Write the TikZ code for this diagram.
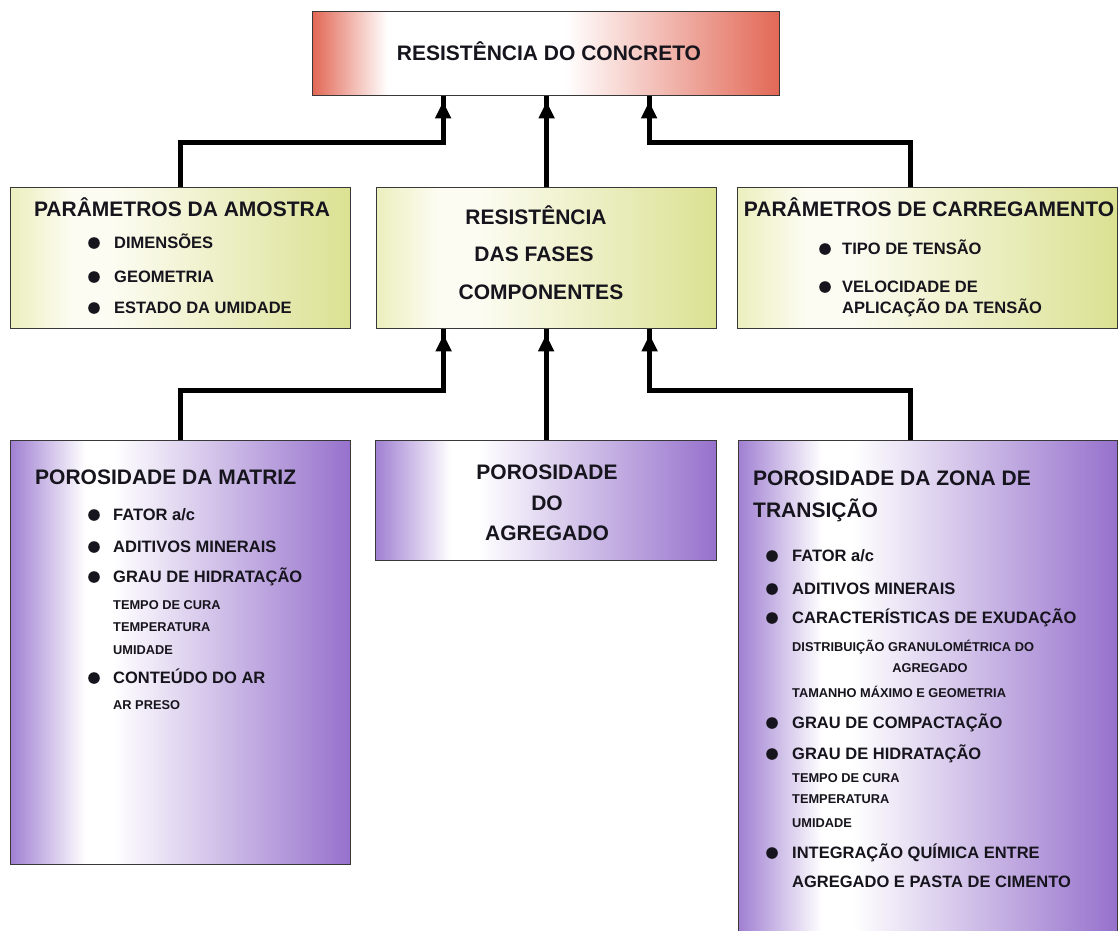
\documentclass[tikz,border=0pt]{standalone}
\usepackage{fontspec}
\setmainfont{Liberation Sans}
\usetikzlibrary{arrows.meta}

% fill colours
\definecolor{redc}{RGB}{226,104,86}
\definecolor{yelc}{RGB}{219,225,146}
\definecolor{yell}{RGB}{236,239,190}
\definecolor{cream}{RGB}{252,252,242}
\definecolor{purc}{RGB}{150,113,204}
\definecolor{purl}{RGB}{160,128,210}
\definecolor{ink}{RGB}{22,20,28}

% horizontal colour bands (the path spans 25bp .. 75bp)
\pgfdeclarehorizontalshading{redband}{100bp}{color(0bp)=(redc); color(25bp)=(redc); color(33bp)=(white); color(52bp)=(white); color(75bp)=(redc); color(100bp)=(redc)}
\pgfdeclarehorizontalshading{yelband}{100bp}{color(0bp)=(yell); color(25bp)=(yell); color(34bp)=(cream); color(40bp)=(cream); color(75bp)=(yelc); color(100bp)=(yelc)}
\pgfdeclarehorizontalshading{purband}{100bp}{color(0bp)=(purl); color(25bp)=(purl); color(36bp)=(white); color(40bp)=(white); color(75bp)=(purc); color(100bp)=(purc)}

\tikzset{
  box/.style={draw=black!78, line width=1.3pt, inner sep=0pt, anchor=north west},
  redbox/.style={box, shading=redband},
  yelbox/.style={box, shading=yelband},
  purbox/.style={box, shading=purband},
  ttl/.style={font=\fontsize{21}{21}\selectfont\bfseries, text=ink, inner sep=0pt, text height=15pt, text depth=0pt},
  itm/.style={font=\fontsize{16.5}{16.5}\selectfont\bfseries, text=ink, inner sep=0pt, text height=11.8pt, text depth=0pt, anchor=west},
  sml/.style={font=\fontsize{12.8}{12.8}\selectfont\bfseries, text=ink, inner sep=0pt, text height=9.2pt, text depth=0pt, anchor=west},
  conn/.style={draw=black, line width=5pt,
    -{Triangle[width=15pt,length=17pt,sep=0pt] Rectangle[width=5pt,length=5pt,sep=0pt]}},
}

% bullet dot plus its item text
\newcommand\bulletitem[5]{\fill[ink] (#2,#4) circle (5.8pt); \node[itm] (#1) at (#3,#4) {#5};}

\begin{document}
\begin{tikzpicture}[x=1pt,y=-1pt]
\useasboundingbox (0,0) rectangle (1119,930);
\clip (0,0) rectangle (1119,930);

% boxes
\node[redbox, minimum width=467pt, minimum height=84pt] (top) at (312,11) {};
\node[yelbox, minimum width=340pt, minimum height=141pt] (b1) at (10,187) {};
\node[yelbox, minimum width=340pt, minimum height=141pt] (b2) at (376,187) {};
\node[yelbox, minimum width=380pt, minimum height=141pt] (b3) at (737,187) {};
\node[purbox, minimum width=340pt, minimum height=424pt] (b4) at (10,440) {};
\node[purbox, minimum width=341pt, minimum height=120pt] (b5) at (375,440) {};
\node[purbox, minimum width=379pt, minimum height=530pt] (b6) at (738,440) {};

% connectors into the top box
\draw[conn] (b1.north) -- ++(0,-45) -| ([xshift=-103pt]top.south);
\draw[conn] (b2.north) -- (b2.north |- top.south);
\draw[conn] ([xshift=-17pt]b3.north) -- ++(0,-45) -| ([xshift=103pt]top.south);

% connectors into the middle box
\draw[conn] (b4.north) -- ++(0,-50) -| ([xshift=-103pt]b2.south);
\draw[conn] (b5.north) -- (b5.north |- b2.south);
\draw[conn] ([xshift=-17.5pt]b6.north) -- ++(0,-50) -| ([xshift=103pt]b2.south);

% top box text
\node[ttl] (tTop) at (549,53) {RESISTÊNCIA DO CONCRETO};

% sample parameters
\node[ttl] (tB1) at (182,209) {PARÂMETROS DA AMOSTRA};
\bulletitem{i11}{94}{114}{243}{DIMENSÕES}
\bulletitem{i12}{94}{114}{277}{GEOMETRIA}
\bulletitem{i13}{94}{114}{308}{ESTADO DA UMIDADE}

% component phases
\node[ttl] (tB2a) at (536,217) {RESISTÊNCIA};
\node[ttl] (tB2b) at (534,254) {DAS FASES};
\node[ttl] (tB2c) at (541,292) {COMPONENTES};

% loading parameters
\node[ttl] (tB3) at (929,209) {PARÂMETROS DE CARREGAMENTO};
\bulletitem{i31}{825}{842}{249}{TIPO DE TENSÃO}
\bulletitem{i32}{825}{842}{287}{VELOCIDADE DE}
\node[itm] (i33) at (842,308) {APLICAÇÃO DA TENSÃO};

% matrix porosity
\node[ttl, anchor=west] (tB4) at (35,477) {POROSIDADE DA MATRIZ};
\bulletitem{i41}{94}{113}{515}{FATOR a/c}
\bulletitem{i42}{94}{113}{547}{ADITIVOS MINERAIS}
\bulletitem{i43}{94}{113}{577}{GRAU DE HIDRATAÇÃO}
\node[sml] (s41) at (113,605) {TEMPO DE CURA};
\node[sml] (s42) at (113,627) {TEMPERATURA};
\node[sml] (s43) at (113,650) {UMIDADE};
\bulletitem{i44}{94}{113}{678}{CONTEÚDO DO AR}
\node[sml] (s44) at (113,705) {AR PRESO};

% aggregate porosity
\node[ttl] (tB5a) at (547,472) {POROSIDADE};
\node[ttl] (tB5b) at (547,503) {DO};
\node[ttl] (tB5c) at (547,533) {AGREGADO};

% transition zone porosity
\node[ttl, anchor=west] (tB6a) at (753,478) {POROSIDADE DA ZONA DE};
\node[ttl, anchor=west] (tB6b) at (753,510) {TRANSIÇÃO};
\bulletitem{i61}{772}{792}{556}{FATOR a/c}
\bulletitem{i62}{772}{792}{589}{ADITIVOS MINERAIS}
\bulletitem{i63}{772}{792}{618}{CARACTERÍSTICAS DE EXUDAÇÃO}
\node[sml] (s61) at (792,647) {DISTRIBUIÇÃO GRANULOMÉTRICA DO};
\node[sml, anchor=center] (s62) at (930,668) {AGREGADO};
\node[sml] (s63) at (792,693) {TAMANHO MÁXIMO E GEOMETRIA};
\bulletitem{i64}{772}{792}{723}{GRAU DE COMPACTAÇÃO}
\bulletitem{i65}{772}{792}{754}{GRAU DE HIDRATAÇÃO}
\node[sml] (s64) at (792,778) {TEMPO DE CURA};
\node[sml] (s65) at (792,799) {TEMPERATURA};
\node[sml] (s66) at (792,823) {UMIDADE};
\bulletitem{i66}{772}{792}{853}{INTEGRAÇÃO QUÍMICA ENTRE}
\node[itm] (i67) at (792,882) {AGREGADO E PASTA DE CIMENTO};
\end{tikzpicture}
\end{document}
